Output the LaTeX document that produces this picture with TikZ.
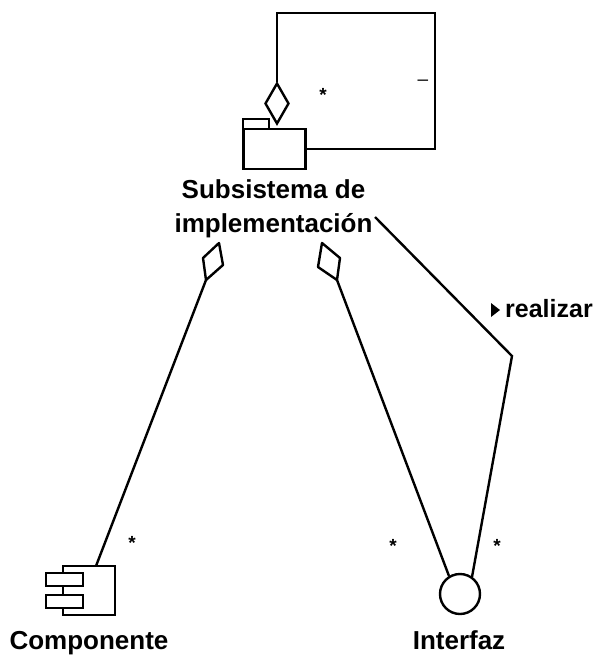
\documentclass[tikz,border=0pt]{standalone}
\usepackage{fontspec}
\setmainfont{Liberation Sans}
\usetikzlibrary{shapes.geometric}

\tikzset{
  part/.style={draw,line width=2.4pt,fill=white,inner sep=0pt},
  assoc/.style={line width=2.4pt},
  caption/.style={font=\bfseries\fontsize{26}{34}\selectfont,align=center,inner sep=0pt},
  mult/.style={font=\bfseries\fontsize{19}{19}\selectfont,inner sep=0pt}
}

\begin{document}
\begin{tikzpicture}[x=1pt,y=-1pt]
\useasboundingbox (0,0) rectangle (602,662);
% subsystem with its self association
\node [part,minimum width=62pt,minimum height=40pt] (body) at (274.5,149) {};
\node [part,minimum width=26pt,minimum height=10pt] (tab) at (256,124) {};
\coordinate (loopa) at (277,13);
\coordinate (loopb) at (435,13);
\coordinate (loopc) at (435,149);
\node [part,diamond,aspect=0.58,minimum width=24pt,minimum height=41pt] (selfdiam) at (277,103.5) {};
\draw [assoc] (selfdiam.north) -- (loopa) -- (loopb) -- (loopc) -- (body.east |- loopc);
\node [mult] (selfstar) at (323,95) {*};
\node [mult,font=\fontsize{19}{19}\selectfont] (selfone) at (423,82.5) {--};
\node [caption] (subsys) at (273.5,208.5) {Subsistema de\\implementaci\'on};
% component side
\coordinate (diamaT) at (219,243);
\coordinate (diamaR) at (223,265);
\coordinate (diamaB) at (206,280);
\coordinate (diamaL) at (203,258);
\draw [assoc,line join=round] (diamaT) -- (diamaR) -- (diamaB) -- (diamaL) -- cycle;
\node [part,minimum width=52pt,minimum height=49pt] (comp) at (89,590.5) {};
\node [part,minimum width=37pt,minimum height=13pt] (compa) at (64.5,579.5) {};
\node [part,minimum width=37pt,minimum height=13pt] (compb) at (64.5,601.5) {};
\coordinate (compend) at (96,566);
\draw [assoc] (diamaB) -- (compend);
\node [mult] (compstar) at (132,543) {*};
\node [caption] (complabel) at (89,643.5) {Componente};
% interface side
\coordinate (diambT) at (322,243);
\coordinate (diambR) at (340,258);
\coordinate (diambB) at (337,280);
\coordinate (diambL) at (318,267);
\draw [assoc,line join=round] (diambT) -- (diambR) -- (diambB) -- (diambL) -- cycle;
\node [part,circle,minimum size=40pt] (iface) at (460,594) {};
\coordinate (ifacea) at (449,576);
\coordinate (ifaceb) at (472,577);
\coordinate (realstart) at (375,217);
\coordinate (realbend) at (512,356);
\draw [assoc] (diambB) -- (ifacea);
\draw [assoc] (realstart) -- (realbend) -- (ifaceb);
\node [mult] (ifstara) at (393,546) {*};
\node [mult] (ifstarb) at (497,546) {*};
\node [caption] (iflabel) at (459,640) {Interfaz};
% realizar label
\coordinate (triA) at (491,303);
\coordinate (triB) at (500,310);
\coordinate (triC) at (491,317);
\fill (triA) -- (triB) -- (triC) -- cycle;
\node [caption,anchor=west,font=\bfseries\fontsize{25}{34}\selectfont] (reallabel) at (505,309) {realizar};
\end{tikzpicture}
\end{document}
